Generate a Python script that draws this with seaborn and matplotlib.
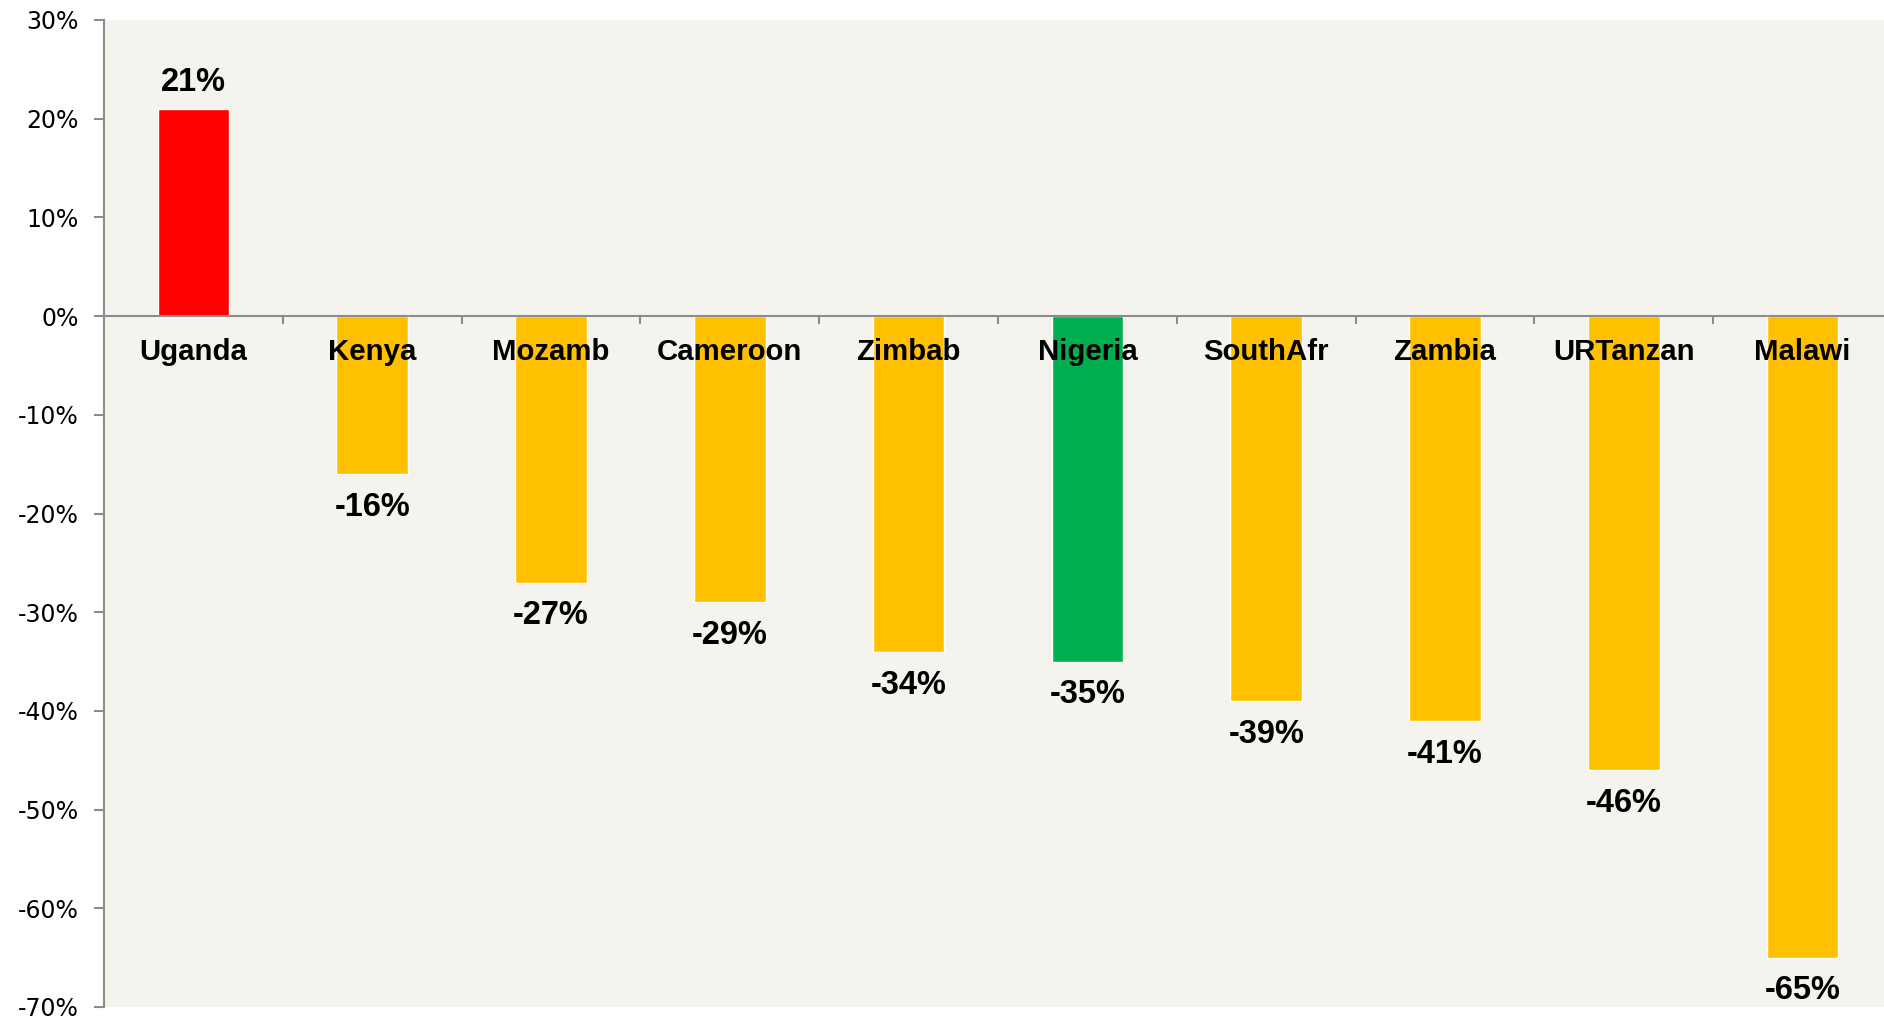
import numpy as np
import matplotlib
matplotlib.use("Agg")
import matplotlib.pyplot as plt
import seaborn as sns
from matplotlib.ticker import FixedLocator, PercentFormatter

# Data
countries = ["Uganda", "Kenya", "Mozamb", "Cameroon", "Zimbab",
             "Nigeria", "SouthAfr", "Zambia", "URTanzan", "Malawi"]
changes = [21, -16, -27, -29, -34, -35, -39, -41, -46, -65]
bar_colors = ["#FF0000", "#FFC000", "#FFC000", "#FFC000", "#FFC000",
              "#00B050", "#FFC000", "#FFC000", "#FFC000", "#FFC000"]

GRAY = "#8C8C8C"

sns.set_theme(style="white")
plt.rcParams["font.family"] = ["DejaVu Sans"]
plt.rcParams["axes.unicode_minus"] = False

fig = plt.figure(figsize=(18.84, 10.17), dpi=100)
# plot area runs slightly past the right edge, as in the reference
ax = fig.add_axes([104 / 1884, 10 / 1017, 1788 / 1884, 987 / 1017])
ax.set_facecolor("#F4F3ED")

sns.barplot(x=countries, y=changes, hue=countries, palette=bar_colors,
            width=0.4, saturation=1, legend=False, ax=ax)

ax.set_xlim(-0.5, len(countries) - 0.5)
ax.set_ylim(-70, 30)
ax.set_yticks(np.arange(-70, 31, 10))
ax.yaxis.set_major_formatter(PercentFormatter(decimals=0))
ax.set_xlabel("")
ax.set_ylabel("")
ax.set_axisbelow(False)

for side in ["top", "right"]:
    ax.spines[side].set_visible(False)
ax.spines["left"].set_color(GRAY)
ax.spines["left"].set_linewidth(1.5)
ax.spines["bottom"].set_position(("data", 0))
ax.spines["bottom"].set_color(GRAY)
ax.spines["bottom"].set_linewidth(1.5)

ax.tick_params(axis="y", which="major", left=True, length=7, width=1.5,
               color=GRAY, pad=11, labelsize=17, labelcolor="black")
ax.tick_params(axis="x", which="major", bottom=False, length=0, pad=16,
               labelsize=21.2, labelcolor="black")
for lab in ax.get_xticklabels():
    lab.set_fontfamily("Liberation Sans")
    lab.set_fontweight("bold")

ax.xaxis.set_minor_locator(FixedLocator(np.arange(0.5, len(countries), 1)))
ax.tick_params(axis="x", which="minor", bottom=True, direction="out",
               length=6, width=1.5, color=GRAY)

# value labels
for i, v in enumerate(changes):
    off = 19 if v > 0 else -24
    ax.annotate(f"{v}%", (i, v), xytext=(0, off), textcoords="offset points",
                ha="center", va="center", fontsize=23.5, fontweight="bold",
                fontfamily="Liberation Sans", color="black")

fig.savefig("out.png", dpi=100, facecolor="white")
